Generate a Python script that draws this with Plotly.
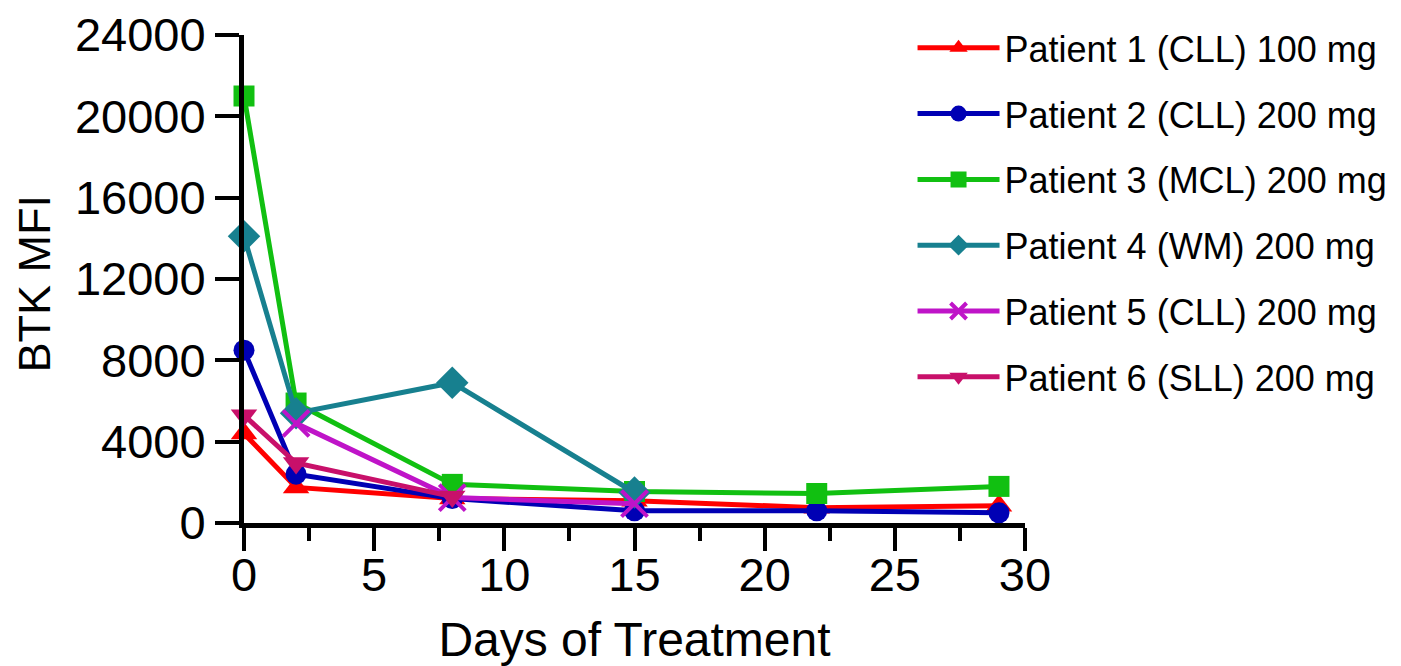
import plotly.graph_objects as go

# ---- data ----
names = [
    "Patient 1 (CLL) 100 mg",
    "Patient 2 (CLL) 200 mg",
    "Patient 3 (MCL) 200 mg",
    "Patient 4 (WM) 200 mg",
    "Patient 5 (CLL) 200 mg",
    "Patient 6 (SLL) 200 mg",
]
p1_days = [0, 2, 8, 15, 22, 29]
p1_mfi = [4400, 1750, 1200, 1100, 750, 850]
p2_days = [0, 2, 8, 15, 22, 29]
p2_mfi = [8500, 2400, 1200, 600, 600, 500]
p3_days = [0, 2, 8, 15, 22, 29]
p3_mfi = [21000, 5900, 1900, 1550, 1450, 1800]
p4_days = [0, 2, 8, 15]
p4_mfi = [14100, 5400, 6900, 1500]
p5_days = [2, 8, 15]
p5_mfi = [4900, 1250, 950]
p6_days = [0, 2, 8]
p6_mfi = [5300, 2950, 1300]

x_ticks = [0, 5, 10, 15, 20, 25, 30]
y_ticks = [0, 4000, 8000, 12000, 16000, 20000, 24000]
x_title = "Days of Treatment"
y_title = "BTK MFI"

series = [
    (names[0], p1_days, p1_mfi),
    (names[1], p2_days, p2_mfi),
    (names[2], p3_days, p3_mfi),
    (names[3], p4_days, p4_mfi),
    (names[4], p5_days, p5_mfi),
    (names[5], p6_days, p6_mfi),
]

# ---- styles ----
colors = ["#FF0000", "#0000B4", "#11C011", "#17808F", "#BF14C8", "#C8106A"]
symbols = ["triangle-up", "circle", "square", "diamond", "x-thin-open", "triangle-down"]
sizes = [23, 21, 21, 25, 26, 23]

FONT = "Liberation Sans, Arial, sans-serif"

fig = go.Figure()
for i, (nm, xs, ys) in enumerate(series):
    mk = dict(symbol=symbols[i], size=sizes[i], color=colors[i])
    if symbols[i] == "x-thin-open":
        mk["line"] = dict(color=colors[i], width=4)
    else:
        mk["line"] = dict(width=0)
    fig.add_trace(go.Scatter(
        x=xs, y=ys, name=nm, mode="lines+markers",
        line=dict(color=colors[i], width=5),
        marker=mk, legendgroup=f"g{i}", cliponaxis=False,
    ))

# page body adds an 8px offset; margins compensate for it
fig.update_layout(
    width=1401, height=666,
    margin=dict(l=236, r=384, t=27, b=151, autoexpand=False),
    paper_bgcolor="white", plot_bgcolor="white",
    font=dict(family=FONT, color="black"),
    showlegend=True,
    legend=dict(
        x=0.856, y=1.035, xanchor="left", yanchor="top",
        font=dict(size=36, family=FONT, color="black"),
        tracegroupgap=16, itemwidth=82, bgcolor="rgba(0,0,0,0)",
        maxheight=640,
    ),
    xaxis=dict(
        range=[0, 30], tickvals=x_ticks, ticktext=[str(v) for v in x_ticks],
        showline=True, linewidth=5, linecolor="black",
        ticks="outside", ticklen=23, tickwidth=4, tickcolor="black",
        minor=dict(dtick=2.5, ticks="outside", ticklen=13, tickwidth=4, tickcolor="black"),
        showgrid=False, zeroline=False, automargin=False,
        tickfont=dict(size=47, family=FONT), ticklabelstandoff=-16,
        title=dict(text=x_title, font=dict(size=48, family=FONT), standoff=23),
    ),
    yaxis=dict(
        range=[0, 24000], tickvals=y_ticks, ticktext=[str(v) for v in y_ticks],
        showline=True, linewidth=5, linecolor="black",
        ticks="outside", ticklen=24, tickwidth=4, tickcolor="black",
        showgrid=False, zeroline=False, automargin=False,
        tickfont=dict(size=47, family=FONT),
    ),
    annotations=[dict(
        text=y_title, textangle=-90, showarrow=False,
        xref="paper", yref="paper", x=-0.268, y=0.49,
        xanchor="center", yanchor="middle",
        font=dict(size=45, family=FONT, color="black"),
    )],
)

fig.write_html("out.html")
